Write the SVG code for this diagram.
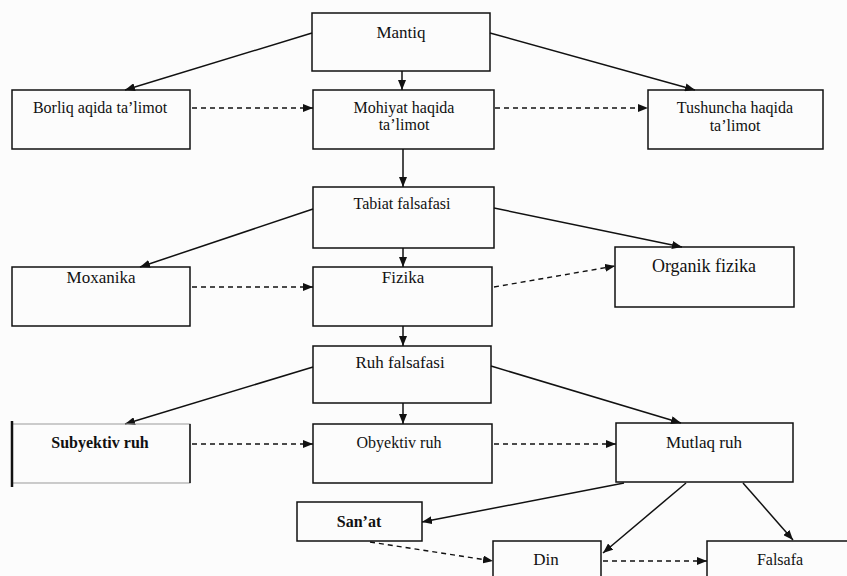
<svg xmlns="http://www.w3.org/2000/svg" width="847" height="576" viewBox="0 0 847 576">
<defs>
<marker id="ah" markerUnits="userSpaceOnUse" markerWidth="10" markerHeight="8" refX="10" refY="4" orient="auto">
<path d="M0,0 L10,4 L0,8 z" fill="#111"/>
</marker>
<style>
.box{fill:none;stroke:#111;stroke-width:1.5}
.t{font-family:"Liberation Serif","Times New Roman",serif;font-size:16px;fill:#111;text-anchor:middle}
.s{fill:none;stroke:#111;stroke-width:1.5;marker-end:url(#ah)}
.d{fill:none;stroke:#111;stroke-width:1.4;stroke-dasharray:5 4;marker-end:url(#ah)}
</style>
</defs>
<rect width="847" height="576" fill="#fcfcfc"/>
<g id="connectors">
<path class="s" d="M312,33 L125,90"/>
<path class="s" d="M402,71 L402,90"/>
<path class="s" d="M490,33 L695,90"/>
<path class="d" d="M192,108 L313,108"/>
<path class="d" d="M495,108 L648,108"/>
<path class="s" d="M403,149 L403,187"/>
<path class="s" d="M313,209 L140,267"/>
<path class="s" d="M403,248 L403,267"/>
<path class="s" d="M494,208 L682,247"/>
<path class="d" d="M192,287 L313,287"/>
<path class="d" d="M494,287 L615,266"/>
<path class="s" d="M403,326 L403,346"/>
<path class="s" d="M313,367 L125,424"/>
<path class="s" d="M403,403 L403,424"/>
<path class="s" d="M491,366 L681,423"/>
<path class="d" d="M192,444 L313,444"/>
<path class="d" d="M494,444 L616,444"/>
<path class="s" d="M624,483 L422,522"/>
<path class="s" d="M686,483 L603,553"/>
<path class="s" d="M743,483 L793,540"/>
<path class="d" d="M370,542 L493,561"/>
<path class="d" d="M603,561 L707,561"/>
</g>
<g id="mantiq"><rect class="box" x="312" y="13" width="178" height="58"/><text class="t" x="401" y="38" style="font-size:17px">Mantiq</text></g>
<g id="borliq"><rect class="box" x="12" y="90" width="178" height="59"/><text class="t" x="100" y="113">Borliq aqida ta’limot</text></g>
<g id="mohiyat"><rect class="box" x="313" y="90" width="181" height="59"/><text class="t" x="404" y="113">Mohiyat haqida</text><text class="t" x="404" y="130">ta’limot</text></g>
<g id="tushuncha"><rect class="box" x="648" y="90" width="175" height="59"/><text class="t" x="735" y="113">Tushuncha haqida</text><text class="t" x="735" y="131">ta’limot</text></g>
<g id="tabiat"><rect class="box" x="313" y="187" width="181" height="61"/><text class="t" x="402" y="209">Tabiat falsafasi</text></g>
<g id="moxanika"><rect class="box" x="12" y="267" width="178" height="59"/><text class="t" x="101" y="283" style="font-size:17px">Moxanika</text></g>
<g id="fizika"><rect class="box" x="313" y="267" width="179" height="59"/><text class="t" x="403" y="283" style="font-size:17px">Fizika</text></g>
<g id="organik"><rect class="box" x="615" y="247" width="179" height="60"/><text class="t" x="704" y="272" style="font-size:18px">Organik fizika</text></g>
<g id="ruh"><rect class="box" x="313" y="346" width="178" height="57"/><text class="t" x="400" y="368" style="font-size:17px">Ruh falsafasi</text></g>
<g id="subyektiv"><rect x="12" y="424" width="178" height="59" fill="none" stroke="#999" stroke-width="1"/><line x1="12" y1="421" x2="12" y2="487" stroke="#111" stroke-width="2.5"/><line x1="190" y1="424" x2="190" y2="483" stroke="#111" stroke-width="1.5"/><text class="t" x="100" y="448" style="font-weight:bold">Subyektiv ruh</text></g>
<g id="obyektiv"><rect class="box" x="313" y="424" width="179" height="59"/><text class="t" x="399" y="448">Obyektiv ruh</text></g>
<g id="mutlaq"><rect class="box" x="616" y="423" width="177" height="59"/><text class="t" x="704" y="448" style="font-size:17px">Mutlaq ruh</text></g>
<g id="sanat"><rect class="box" x="297" y="502" width="125" height="39"/><text class="t" x="359" y="527" style="font-weight:bold">San’at</text></g>
<g id="din"><rect class="box" x="493" y="541" width="108" height="45"/><text class="t" x="546" y="565" style="font-size:17px">Din</text></g>
<g id="falsafa"><rect class="box" x="707" y="541" width="150" height="45"/><text class="t" x="780" y="565">Falsafa</text></g>
</svg>
